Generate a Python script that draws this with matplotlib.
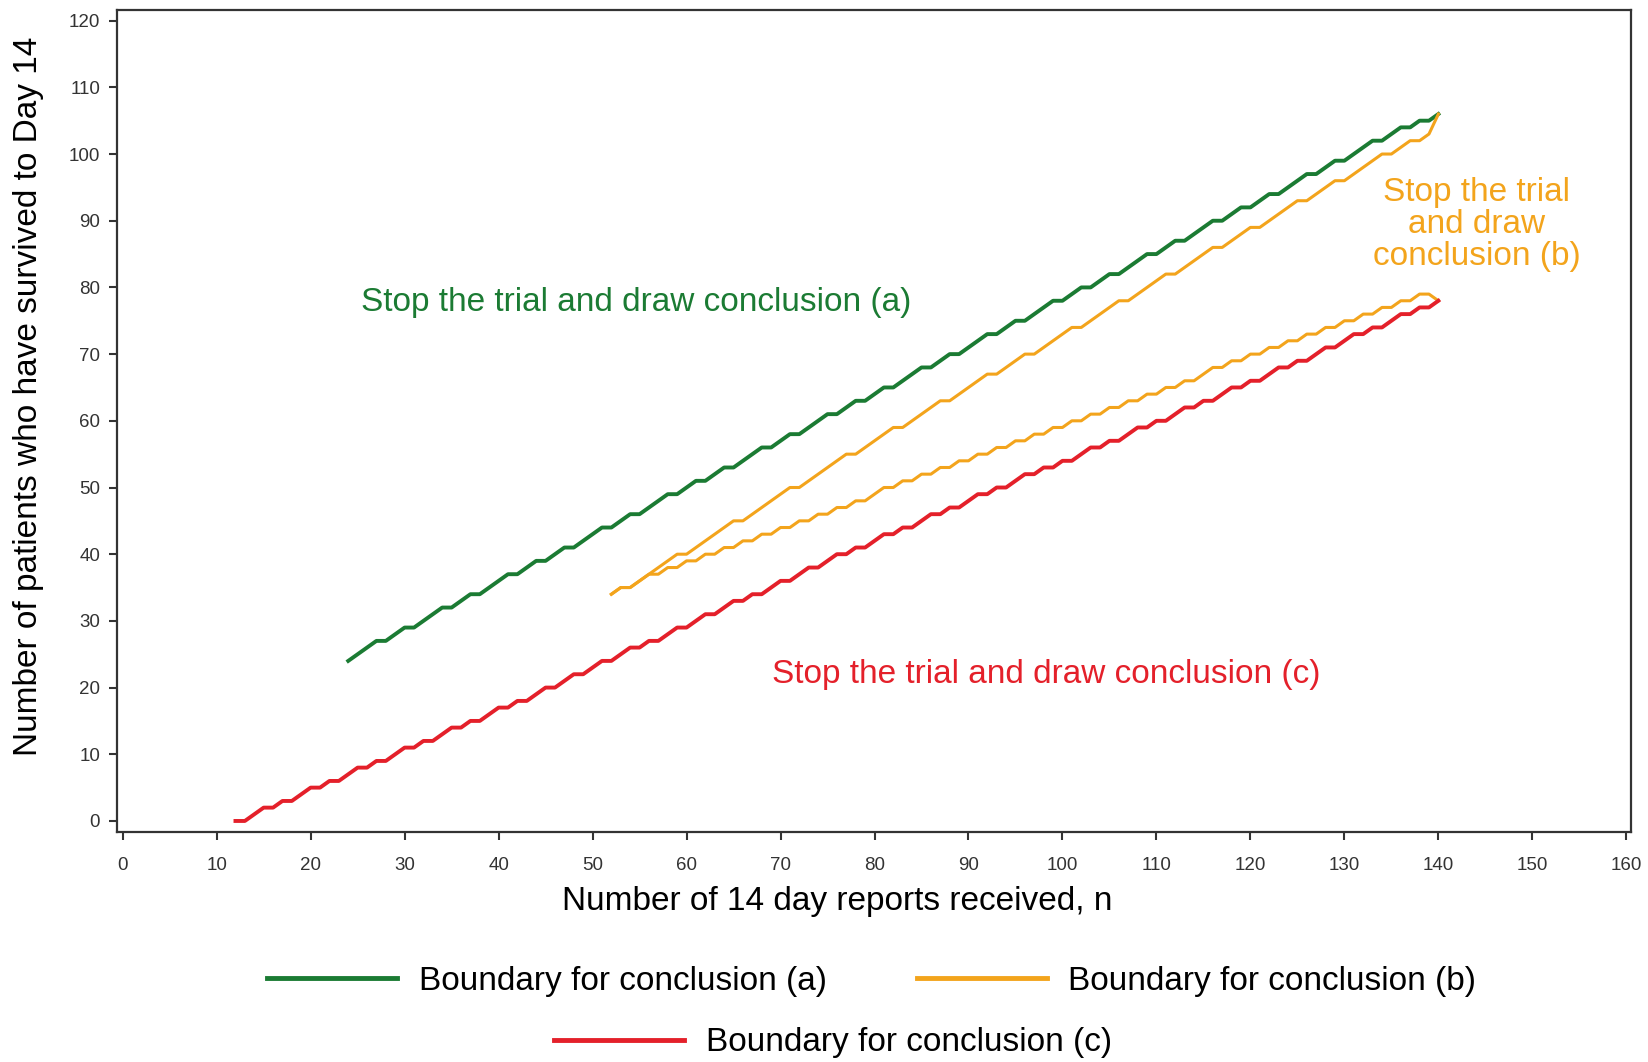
import matplotlib
matplotlib.use("Agg")
import matplotlib.pyplot as plt
from matplotlib.lines import Line2D

plt.rcParams['font.family'] = ['Liberation Sans', 'DejaVu Sans']

# Boundary values (integer counts per n)
n_a = list(range(24, 141))
bound_a = [24, 25, 26, 27, 27, 28, 29, 29, 30, 31, 32, 32, 33, 34, 34, 35,
           36, 37, 37, 38, 39, 39, 40, 41, 41, 42,
           43, 44, 44, 45, 46, 46, 47, 48, 49, 49,
           50, 51, 51, 52, 53, 53, 54, 55, 56, 56,
           57, 58, 58, 59, 60, 61, 61, 62, 63, 63,
           64, 65, 65, 66, 67, 68, 68, 69, 70, 70,
           71, 72, 73, 73, 74, 75, 75, 76, 77, 78,
           78, 79, 80, 80, 81, 82, 82, 83, 84, 85,
           85, 86, 87, 87, 88, 89, 90, 90, 91, 92,
           92, 93, 94, 94, 95, 96, 97, 97, 98, 99,
           99, 100, 101, 102, 102, 103, 104, 104, 105, 105,
           106]

n_b = list(range(52, 141))
bound_b_upper = [34, 35, 35, 36, 37, 38, 39, 40,
                 40, 41, 42, 43, 44, 45, 45, 46, 47, 48,
                 49, 50, 50, 51, 52, 53, 54, 55, 55, 56,
                 57, 58, 59, 59, 60, 61, 62, 63, 63, 64,
                 65, 66, 67, 67, 68, 69, 70, 70, 71, 72,
                 73, 74, 74, 75, 76, 77, 78, 78, 79, 80,
                 81, 82, 82, 83, 84, 85, 86, 86, 87, 88,
                 89, 89, 90, 91, 92, 93, 93, 94, 95, 96,
                 96, 97, 98, 99, 100, 100, 101, 102, 102, 103,
                 106]
bound_b_lower = [34, 35, 35, 36, 37, 37, 38, 38,
                 39, 39, 40, 40, 41, 41, 42, 42, 43, 43,
                 44, 44, 45, 45, 46, 46, 47, 47, 48, 48,
                 49, 50, 50, 51, 51, 52, 52, 53, 53, 54,
                 54, 55, 55, 56, 56, 57, 57, 58, 58, 59,
                 59, 60, 60, 61, 61, 62, 62, 63, 63, 64,
                 64, 65, 65, 66, 66, 67, 68, 68, 69, 69,
                 70, 70, 71, 71, 72, 72, 73, 73, 74, 74,
                 75, 75, 76, 76, 77, 77, 78, 78, 79, 79,
                 78]

n_c = list(range(12, 141))
bound_c = [0, 0, 1, 2, 2, 3, 3, 4,
           5, 5, 6, 6, 7, 8, 8, 9, 9, 10,
           11, 11, 12, 12, 13, 14, 14, 15, 15, 16,
           17, 17, 18, 18, 19, 20, 20, 21, 22, 22,
           23, 24, 24, 25, 26, 26, 27, 27, 28, 29,
           29, 30, 31, 31, 32, 33, 33, 34, 34, 35,
           36, 36, 37, 38, 38, 39, 40, 40, 41, 41,
           42, 43, 43, 44, 44, 45, 46, 46, 47, 47,
           48, 49, 49, 50, 50, 51, 52, 52, 53, 53,
           54, 54, 55, 56, 56, 57, 57, 58, 59, 59,
           60, 60, 61, 62, 62, 63, 63, 64, 65, 65,
           66, 66, 67, 68, 68, 69, 69, 70, 71, 71,
           72, 73, 73, 74, 74, 75, 76, 76, 77, 77,
           78]

labels = ["Boundary for conclusion (a)", "Boundary for conclusion (b)",
          "Boundary for conclusion (c)"]

GREEN = '#1b7b33'
ORANGE = '#f3a41c'
RED = '#e4202a'
AXCOL = '#333333'
FS = 24

fig = plt.figure(figsize=(16.48, 10.62), dpi=100)
ax = fig.add_axes([0.0708, 0.2166, 0.9189, 0.774])

ax.plot(n_a, bound_a, color=GREEN, lw=2.8, solid_joinstyle='round')
ax.plot(n_b, bound_b_upper, color=ORANGE, lw=2.2, solid_joinstyle='round')
ax.plot(n_b, bound_b_lower, color=ORANGE, lw=2.2, solid_joinstyle='round')
ax.plot(n_c, bound_c, color=RED, lw=2.8, solid_joinstyle='round')

ax.set_xlim(-0.64, 160.5)
ax.set_ylim(-1.65, 121.6)
ax.set_xticks(range(0, 161, 10))
ax.set_yticks(range(0, 121, 10))
ax.tick_params(axis='both', colors=AXCOL, labelsize=13.5, width=1.5, length=6)
ax.tick_params(axis='x', pad=12)
ax.tick_params(axis='y', pad=6)
for s in ax.spines.values():
    s.set_color(AXCOL)
    s.set_linewidth(1.6)

ax.set_xlabel("Number of 14 day reports received, n", fontsize=FS, color='black')
ax.set_ylabel("Number of patients who have survived to Day 14", fontsize=FS, color='black')
ax.xaxis.label.set_va('center')
ax.yaxis.label.set_va('center')
ax.xaxis.set_label_coords(0.4757, -0.085)
ax.yaxis.set_label_coords(-0.058, 0.53)

ax.text(54.6, 77.7, "Stop the trial and draw conclusion (a)", color=GREEN,
        fontsize=FS, ha='center', va='center')
ax.text(98.3, 21.9, "Stop the trial and draw conclusion (c)", color=RED,
        fontsize=FS, ha='center', va='center')
ax.text(144.1, 89.4, "Stop the trial\nand draw\nconclusion (b)", color=ORANGE,
        fontsize=FS, ha='center', va='center', linespacing=1.05)

h_a = Line2D([], [], color=GREEN, lw=3.5)
h_b = Line2D([], [], color=ORANGE, lw=3.5)
h_c = Line2D([], [], color=RED, lw=3.5)
fig.legend([h_a, h_b], labels[:2], loc='center', bbox_to_anchor=(0.529, 0.076),
           ncol=2, frameon=False, fontsize=FS, handlelength=3.9,
           handletextpad=0.65, columnspacing=2.7)
fig.legend([h_c], labels[2:], loc='center', bbox_to_anchor=(0.5055, 0.018),
           frameon=False, fontsize=FS, handlelength=3.9, handletextpad=0.65)

fig.savefig("out.png", dpi=100)
